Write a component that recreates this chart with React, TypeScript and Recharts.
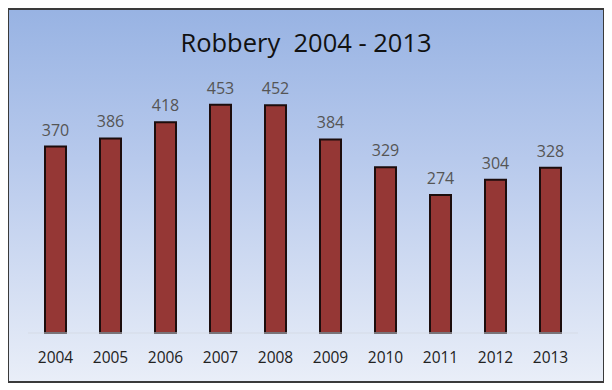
import { Bar, BarChart, LabelList, XAxis, YAxis } from "recharts";

const years = ["2004", "2005", "2006", "2007", "2008", "2009", "2010", "2011", "2012", "2013"];
const robberies = [370, 386, 418, 453, 452, 384, 329, 274, 304, 328];

const data = years.map((year, i) => ({ year, robberies: robberies[i] }));

export default function App() {
  return (
    <div
      style={{
        position: "relative",
        marginLeft: -1,
        width: 594,
        height: 371,
        border: "2px solid #3a3a3a",
        background: "linear-gradient(to bottom, #98b3e3 0%, #b7c9ec 40%, #e9eef8 100%)",
        fontFamily: "'Open Sans', sans-serif",
      }}
    >
      <div
        style={{
          position: "absolute",
          top: 15,
          left: 0,
          width: "100%",
          textAlign: "center",
          fontSize: 25.5,
          color: "#111",
          whiteSpace: "pre",
        }}
      >
        {"Robbery  2004 - 2013"}
      </div>
      <BarChart
        width={594}
        height={371}
        data={data}
        margin={{ top: 71, right: 25, left: 19, bottom: 16 }}
        barCategoryGap="31"
      >
        <XAxis
          dataKey="year"
          axisLine={{ stroke: "#d5dbe6" }}
          tickLine={false}
          tick={{ fontSize: 15.5, fill: "#222" }}
          tickMargin={13}
          height={32}
        />
        <YAxis hide domain={[0, 500]} />
        <Bar
          dataKey="robberies"
          fill="#953735"
          stroke="#1c0d0d"
          strokeWidth={2}
          barSize={21}
          isAnimationActive={false}
        >
          <LabelList dataKey="robberies" position="top" offset={11} style={{ fontSize: 16, fill: "#555" }} />
        </Bar>
      </BarChart>
    </div>
  );
}
